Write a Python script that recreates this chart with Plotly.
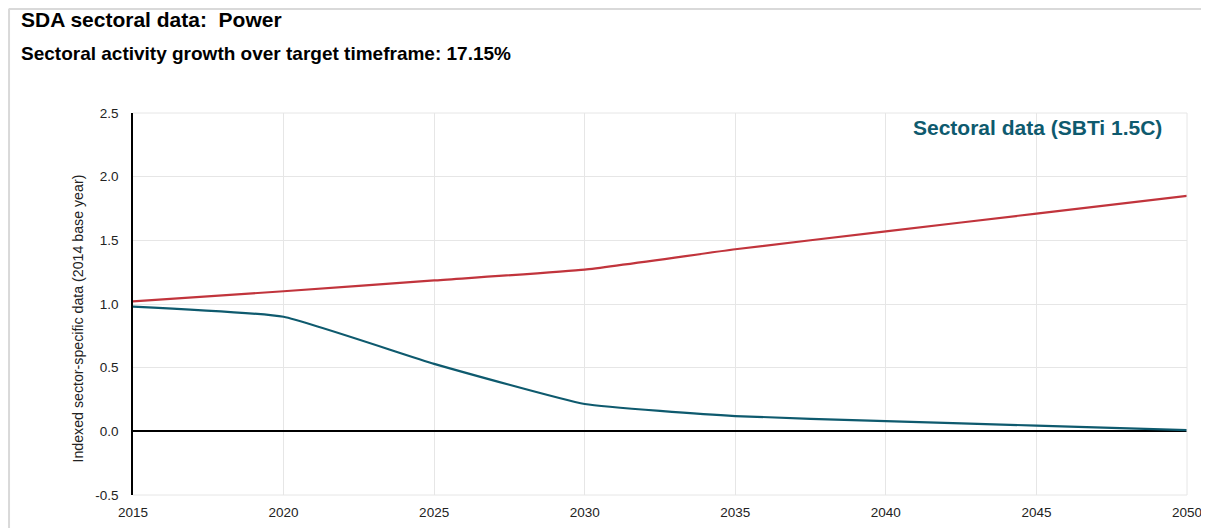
import plotly.graph_objects as go

years = [2015, 2020, 2025, 2030, 2035, 2040, 2045, 2050]
activity = [1.02, 1.10, 1.185, 1.27, 1.43, 1.57, 1.71, 1.85]
intensity = [0.98, 0.90, 0.53, 0.215, 0.12, 0.08, 0.045, 0.01]

x_ticks = [2015, 2020, 2025, 2030, 2035, 2040, 2045, 2050]
y_ticks = [-0.5, 0.0, 0.5, 1.0, 1.5, 2.0, 2.5]
y_labels = ["-0.5", "0.0", "0.5", "1.0", "1.5", "2.0", "2.5"]

RED = "#c1343c"
BLUE = "#0e5a6e"
FONT = "Liberation Sans, Arial, sans-serif"

fig = go.Figure()
fig.add_trace(go.Scatter(x=years, y=activity, mode="lines",
                         line=dict(color=RED, width=2.2, shape="spline", smoothing=0.4),
                         showlegend=False))
fig.add_trace(go.Scatter(x=years, y=intensity, mode="lines",
                         line=dict(color=BLUE, width=2.2, shape="spline", smoothing=0.4),
                         showlegend=False))

fig.update_layout(
    width=1201, height=520,
    margin=dict(l=125, r=22, t=105, b=33),
    paper_bgcolor="white", plot_bgcolor="white",
    font=dict(family=FONT, size=13.5, color="#222"),
    xaxis=dict(range=[2015, 2050], tickvals=x_ticks, ticktext=[str(t) for t in x_ticks],
               automargin=False,
               showgrid=True, gridcolor="#e6e6e6", gridwidth=1, zeroline=False,
               showline=False, ticks="outside", ticklen=5, tickcolor="rgba(0,0,0,0)",
               tickfont=dict(size=13.5, color="#222")),
    yaxis=dict(range=[-0.5, 2.5], tickvals=y_ticks, ticktext=y_labels,
               automargin=False,
               showgrid=True, gridcolor="#e6e6e6", gridwidth=1,
               zeroline=True, zerolinecolor="black", zerolinewidth=1.5,
               showline=True, linecolor="black", linewidth=1.5, mirror=False,
               ticks="outside", ticklen=10, tickcolor="rgba(0,0,0,0)",
               tickfont=dict(size=13.5, color="#222")),
)

# right/top/bottom gridline frame
fig.add_shape(type="line", xref="paper", yref="paper", x0=1, x1=1, y0=0, y1=1,
              line=dict(color="#e6e6e6", width=1))
fig.add_shape(type="line", xref="paper", yref="paper", x0=0, x1=1, y0=1, y1=1,
              line=dict(color="#e6e6e6", width=1))
fig.add_shape(type="line", xref="paper", yref="paper", x0=0, x1=1, y0=0, y1=0,
              line=dict(color="#e6e6e6", width=1))

# outer card border (top and left)
fig.add_shape(type="line", xref="paper", yref="paper", x0=-0.118, x1=1.05, y0=1.2723, y1=1.2723,
              line=dict(color="#d9d9d9", width=2))
fig.add_shape(type="line", xref="paper", yref="paper", x0=-0.1176, x1=-0.1176, y0=-0.1, y1=1.2723,
              line=dict(color="#d9d9d9", width=2))

fig.add_annotation(xref="paper", yref="paper", x=-0.108, y=1.2435, xanchor="left", yanchor="middle",
                   text="<b>SDA sectoral data:&nbsp; Power</b>", showarrow=False,
                   font=dict(size=21, color="black", family=FONT))
fig.add_annotation(xref="paper", yref="paper", x=-0.108, y=1.157, xanchor="left", yanchor="middle",
                   text="<b>Sectoral activity growth over target timeframe: 17.15%</b>", showarrow=False,
                   font=dict(size=19, color="black", family=FONT))
fig.add_annotation(xref="paper", yref="paper", x=0.858, y=0.963, xanchor="center", yanchor="middle",
                   text="<b>Sectoral data (SBTi 1.5C)</b>", showarrow=False,
                   font=dict(size=21, color=BLUE, family=FONT))
fig.add_annotation(xref="paper", yref="paper", x=-0.0522, y=0.462, xanchor="center", yanchor="middle",
                   text="Indexed sector-specific data (2014 base year)", textangle=-90, showarrow=False,
                   font=dict(size=14.2, color="#222", family=FONT))

fig.write_html("out.html")
